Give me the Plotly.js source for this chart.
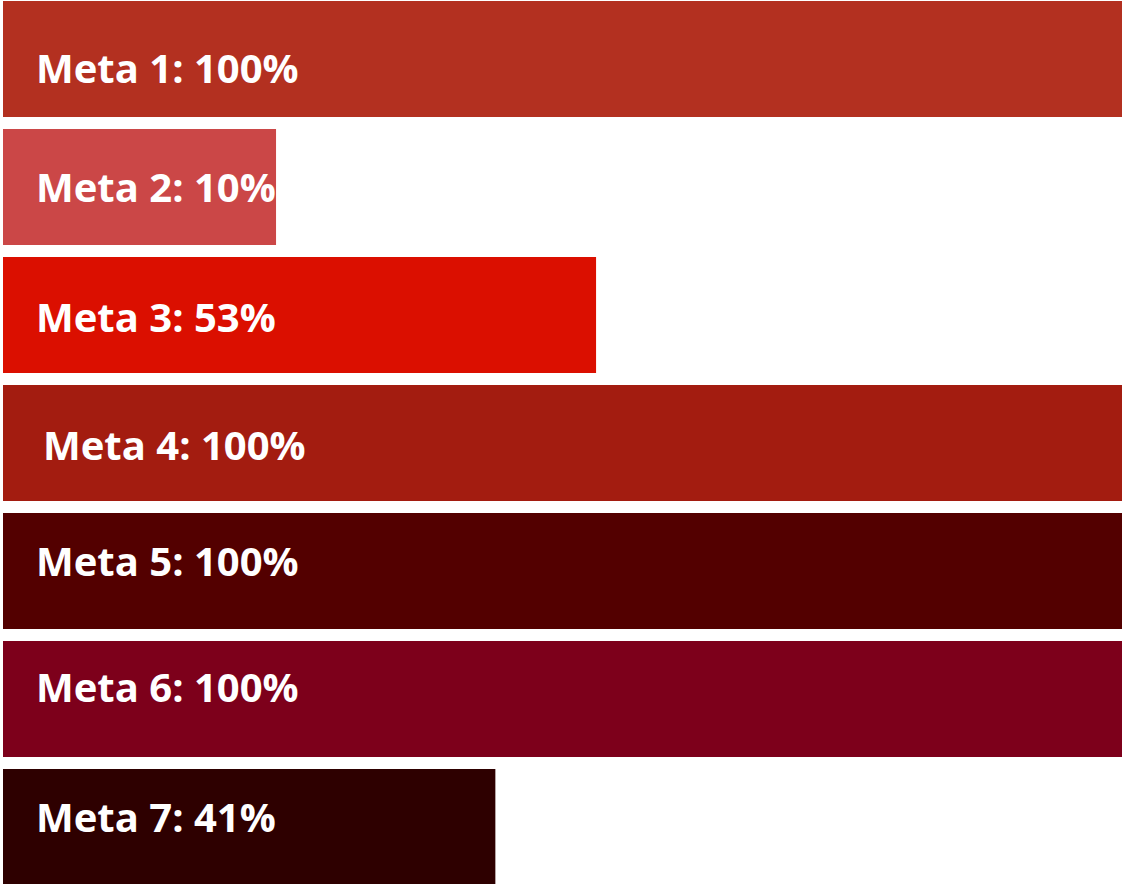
<!DOCTYPE html>
<html>
<head>
<meta charset="utf-8">
<script src="https://cdn.plot.ly/plotly-3.0.1.min.js"></script>
<style>
html,body{margin:0;padding:0;background:#fff;}
#chart{width:1122px;height:884px;}
</style>
</head>
<body>
<div id="chart"></div>
<script>
// Data
const categories = ["Meta 1", "Meta 2", "Meta 3", "Meta 4", "Meta 5", "Meta 6", "Meta 7"];
const percentLabels = [100, 10, 53, 100, 100, 100, 41];      // values printed on the bars
const barLengths = [100, 24.4, 53, 100, 100, 100, 44];        // drawn bar lengths (estimated)
const barColors = ["#B33020", "#CB4747", "#DB0F00", "#A31C10", "#530000", "#7D001B", "#2E0000"];

// label placement (style only)
const labelXShift = [31, 31, 31, 38, 31, 31, 31];
const labelYShift = [-8, 1, -1, -1, 11, 13, 11];

const idx = categories.map((c, i) => i);

const trace = {
  type: "bar",
  orientation: "h",
  y: idx,
  x: barLengths,
  marker: { color: barColors, line: { width: 0 } },
  hoverinfo: "skip",
  showlegend: false
};

const annotations = categories.map((c, i) => ({
  x: 0, y: i, xref: "x", yref: "y",
  xanchor: "left", yanchor: "middle",
  text: c + ": " + percentLabels[i] + "%",
  showarrow: false,
  xshift: labelXShift[i],
  yshift: labelYShift[i],
  font: { family: "Open Sans, Noto Sans, sans-serif", size: 40, color: "#ffffff", weight: 700 }
}));

const layout = {
  width: 1122,
  height: 884,
  margin: { l: 3, r: 0, t: 0, b: 0, pad: 0 },
  paper_bgcolor: "#ffffff",
  plot_bgcolor: "#ffffff",
  bargap: 0.094,
  xaxis: { range: [0, 100], visible: false, fixedrange: true },
  yaxis: { range: [6.445, -0.461], visible: false, fixedrange: true },
  annotations: annotations
};

Plotly.newPlot("chart", [trace], layout, { displayModeBar: false, staticPlot: true });
</script>
</body>
</html>
